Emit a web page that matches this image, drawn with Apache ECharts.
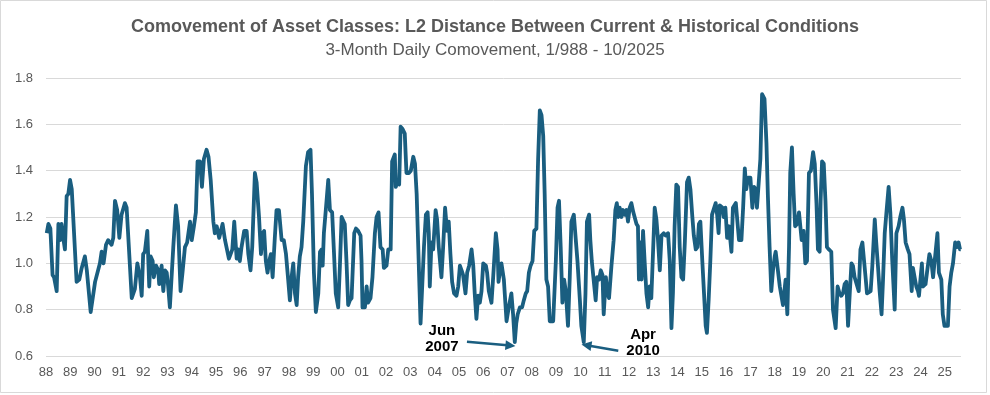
<!DOCTYPE html>
<html>
<head>
<meta charset="utf-8">
<script src="https://cdn.jsdelivr.net/npm/echarts@6/dist/echarts.min.js"></script>
<style>
html,body{margin:0;padding:0;background:#fff;}
#chart{width:990px;height:395px;}
</style>
</head>
<body>
<div id="chart"></div>
<script>
// Dates as decimal years
const dates = [
1988.03,1988.10,1988.18,1988.27,1988.33,1988.44,1988.51,1988.58,1988.64,1988.71,1988.78,1988.85,1988.92,1988.99,
1989.06,1989.26,1989.37,1989.47,1989.60,1989.68,1989.75,1989.84,
1990.02,1990.22,1990.29,1990.37,1990.47,1990.56,1990.70,1990.77,1990.84,1990.93,
1991.02,1991.11,1991.25,1991.32,1991.53,1991.66,1991.76,1991.87,1991.94,
1992.00,1992.07,1992.17,1992.25,1992.31,1992.39,1992.44,1992.53,1992.62,1992.66,1992.76,1992.83,1992.90,1992.97,
1993.03,1993.10,1993.24,1993.35,1993.44,1993.54,1993.62,1993.72,1993.81,1993.93,
1994.00,1994.09,1994.17,1994.24,1994.34,1994.42,1994.50,1994.61,1994.69,1994.78,1994.89,1994.95,
1995.03,1995.13,1995.19,1995.27,1995.37,1995.44,1995.53,1995.60,1995.67,1995.75,1995.85,1995.91,1995.98,
1996.05,1996.16,1996.26,1996.33,1996.42,1996.49,1996.60,1996.67,1996.77,1996.85,1996.92,1996.98,
1997.05,1997.12,1997.19,1997.26,1997.33,1997.42,1997.49,1997.59,1997.70,1997.79,1997.88,1997.97,
1998.04,1998.11,1998.18,1998.25,1998.32,1998.38,1998.45,1998.52,1998.59,1998.70,1998.79,1998.89,1998.95,
1999.03,1999.11,1999.21,1999.28,1999.35,1999.39,1999.44,1999.55,1999.62,1999.69,1999.78,1999.85,1999.93,
2000.03,2000.10,2000.17,2000.23,2000.30,2000.37,2000.44,2000.51,2000.58,2000.65,2000.69,2000.76,2000.85,2000.95,2000.99,
2001.03,2001.13,2001.20,2001.26,2001.36,2001.44,2001.54,2001.61,2001.69,2001.77,2001.86,2001.91,
2002.02,2002.09,2002.19,2002.25,2002.36,2002.40,2002.46,2002.54,2002.60,2002.68,2002.77,2002.84,2002.94,
2003.02,2003.12,2003.19,2003.26,2003.32,2003.42,2003.56,2003.64,2003.71,2003.76,2003.80,2003.87,2003.94,
2004.04,2004.10,2004.17,2004.28,2004.35,2004.43,2004.51,2004.58,2004.65,2004.72,2004.80,2004.90,2004.97,
2005.04,2005.11,2005.17,2005.27,2005.34,2005.42,2005.52,2005.59,2005.65,2005.72,2005.79,2005.86,2005.93,
2006.00,2006.11,2006.16,2006.23,2006.34,2006.41,2006.52,2006.59,2006.63,2006.68,2006.75,2006.85,2006.96,
2007.05,2007.16,2007.23,2007.30,2007.36,2007.42,2007.51,2007.60,2007.67,2007.75,2007.81,2007.88,2007.95,
2008.03,2008.10,2008.19,2008.26,2008.33,2008.40,2008.47,2008.53,2008.60,2008.67,2008.74,2008.81,2008.88,2008.99,
2009.06,2009.12,2009.19,2009.26,2009.33,2009.40,2009.49,2009.56,2009.63,2009.73,2009.80,2009.88,2009.98,
2010.04,2010.14,2010.21,2010.27,2010.36,2010.41,2010.47,2010.55,2010.63,2010.69,2010.77,2010.84,2010.91,2010.96,
2011.05,2011.11,2011.18,2011.28,2011.37,2011.44,2011.50,2011.56,2011.62,2011.69,2011.76,2011.83,2011.90,2011.96,
2012.03,2012.10,2012.18,2012.31,2012.37,2012.41,2012.47,2012.52,2012.58,2012.65,2012.72,2012.79,2012.85,2012.92,2012.99,
2013.06,2013.13,2013.19,2013.27,2013.34,2013.43,2013.51,2013.61,2013.68,2013.75,2013.81,2013.88,2013.95,
2014.02,2014.09,2014.16,2014.23,2014.30,2014.39,2014.46,2014.53,2014.61,2014.67,2014.75,2014.82,2014.88,2014.94,
2015.02,2015.09,2015.16,2015.21,2015.28,2015.35,2015.42,2015.49,2015.57,2015.63,2015.69,2015.74,2015.85,2015.90,2015.97,
2016.04,2016.12,2016.22,2016.28,2016.40,2016.47,2016.53,2016.63,2016.70,2016.77,2016.83,2016.90,
2017.00,2017.08,2017.15,2017.22,2017.27,2017.35,2017.41,2017.48,2017.58,2017.66,2017.72,2017.79,2017.86,2017.93,
2018.00,2018.04,2018.11,2018.21,2018.28,2018.34,2018.41,2018.45,2018.52,2018.59,2018.64,2018.71,2018.78,2018.84,2018.92,
2019.00,2019.06,2019.11,2019.19,2019.26,2019.33,2019.41,2019.49,2019.58,2019.65,2019.72,2019.78,2019.85,2019.89,2019.95,
2020.02,2020.09,2020.15,2020.23,2020.33,2020.40,2020.51,2020.59,2020.67,2020.74,2020.81,2020.88,2020.95,
2021.02,2021.09,2021.16,2021.22,2021.29,2021.36,2021.46,2021.53,2021.61,2021.68,2021.75,2021.80,2021.87,2021.95,
2022.02,2022.12,2022.18,2022.25,2022.32,2022.40,2022.46,2022.53,2022.60,2022.69,2022.76,2022.84,2022.94,
2023.01,2023.10,2023.17,2023.26,2023.32,2023.39,2023.48,2023.55,2023.64,2023.69,2023.76,2023.83,2023.90,2023.94,
2024.06,2024.10,2024.21,2024.27,2024.37,2024.45,2024.52,2024.58,2024.70,2024.76,2024.86,2024.92,2024.99,
2025.06,2025.13,2025.20,2025.27,2025.34,2025.43,2025.50,2025.57,2025.63,2025.66
];

const values = [
1.13,1.17,1.15,0.95,0.94,0.88,1.17,1.10,1.17,1.11,1.06,1.29,1.30,1.36,
1.32,0.92,0.93,0.98,1.03,0.97,0.97,0.79,
0.92,1.00,1.05,1.00,1.08,1.10,1.08,1.11,1.27,1.23,
1.11,1.21,1.26,1.24,0.85,0.89,1.00,0.94,0.86,
1.04,1.05,1.14,0.90,1.03,1.01,0.94,0.99,0.97,0.91,0.99,0.88,0.97,0.96,
0.90,0.81,1.07,1.25,1.16,0.88,0.96,1.07,1.09,1.18,
1.10,1.16,1.22,1.44,1.44,1.33,1.45,1.49,1.46,1.36,1.18,1.13,
1.16,1.11,1.11,1.17,1.10,1.10,1.02,1.04,1.06,1.18,1.02,1.06,1.01,
1.07,1.14,1.14,1.04,0.97,1.07,1.39,1.35,1.20,1.04,1.13,1.14,
1.01,0.96,1.01,1.04,0.94,1.11,1.23,1.23,1.10,1.10,1.04,0.93,
0.84,0.94,1.00,0.87,0.82,0.94,1.03,1.07,1.18,1.42,1.48,1.49,1.30,
0.96,0.79,0.87,1.05,1.06,0.99,1.13,1.27,1.36,1.23,1.22,1.06,0.87,
0.81,0.99,1.20,1.20,1.17,1.01,0.82,0.84,0.85,0.85,1.13,1.15,1.14,1.12,1.01,
0.81,0.81,0.90,0.83,0.85,0.94,1.13,1.20,1.22,1.07,1.06,0.98,
0.99,1.06,1.06,1.44,1.47,1.33,1.35,1.34,1.59,1.58,1.56,1.39,1.39,
1.40,1.46,1.43,1.30,1.09,0.74,1.07,1.21,1.22,1.13,0.90,1.09,1.06,
1.23,1.19,1.07,0.94,1.07,1.24,1.14,1.18,1.04,0.92,0.87,0.86,0.90,
0.99,0.97,0.95,0.87,0.96,0.99,1.06,0.99,0.87,0.76,0.86,0.83,0.88,
1.00,0.99,0.96,0.88,0.83,0.94,1.13,1.06,0.92,0.96,1.00,0.93,0.75,
0.81,0.87,0.78,0.66,0.74,0.78,0.81,0.81,0.84,0.87,0.88,0.96,0.99,
1.01,1.14,1.15,1.45,1.66,1.64,1.55,1.30,0.93,0.90,0.75,0.75,0.75,1.01,
1.24,1.27,1.07,0.83,0.93,0.88,0.73,0.93,1.18,1.21,1.21,1.01,0.84,
0.73,0.66,0.87,1.18,1.21,1.10,1.01,1.01,0.84,0.94,0.93,0.97,0.95,0.78,
0.94,0.87,0.85,0.99,1.10,1.23,1.26,1.20,1.24,1.20,1.23,1.21,1.23,1.18,
1.24,1.26,1.22,1.17,1.16,0.93,1.09,0.93,1.14,1.00,0.87,0.81,0.90,0.85,0.85,
1.24,1.19,1.11,0.97,1.12,1.13,1.12,1.13,1.01,0.72,0.87,1.16,1.34,
1.33,1.07,0.94,0.93,1.09,1.35,1.37,1.32,1.20,1.12,1.06,1.07,1.17,1.18,
1.01,0.87,0.73,0.70,0.84,1.01,1.21,1.21,1.26,1.21,1.13,1.25,1.24,1.20,1.24,
1.11,1.16,1.05,1.24,1.26,1.26,1.10,1.10,1.24,1.41,1.32,1.37,
1.37,1.24,1.33,1.32,1.24,1.36,1.45,1.73,1.71,1.52,1.29,1.07,0.88,0.97,
1.03,1.05,0.99,0.90,0.90,0.82,0.82,0.93,0.78,1.07,1.39,1.50,1.30,1.16,1.17,
1.22,1.22,1.10,1.14,1.00,1.01,1.39,1.40,1.48,1.43,1.26,1.06,1.05,1.27,1.44,
1.43,1.27,1.07,1.06,1.05,0.80,0.72,0.90,0.87,0.86,0.87,0.91,0.92,
0.73,0.87,1.00,0.99,0.94,0.94,0.88,1.06,1.09,1.01,0.93,0.87,0.87,0.88,
0.99,1.19,1.09,0.99,0.88,0.78,0.93,1.13,1.22,1.33,1.22,1.01,0.80,
1.13,1.16,1.20,1.24,1.19,1.09,1.06,1.04,0.88,0.98,0.98,0.90,0.88,0.86,
1.00,0.90,0.91,0.96,1.04,1.01,0.94,0.94,1.13,0.96,0.93,0.78,0.73,
0.73,0.73,0.90,0.96,1.00,1.09,1.07,1.09,1.06,1.06
];

const yTicks = [0.6, 0.8, 1.0, 1.2, 1.4, 1.6, 1.8];
const xStartYear = 1988;
const xEndYear = 2025.67;

// Annotations (data coordinates)
const annJunText = { label: 'Jun\n2007', at: [2004.30, 0.673] };
const annJunArrow = { from: [2005.33, 0.662], to: [2007.12, 0.645] };
const annAprText = { label: 'Apr\n2010', at: [2012.58, 0.656] };
const annAprArrow = { from: [2011.56, 0.623], to: [2010.25, 0.646] };

const lineColor = '#1A5E80';
const textGrey = '#595959';
const fontFam = '"Liberation Sans", Arial, sans-serif';

const seriesData = dates.map((d, i) => [d, values[i]]);

const chart = echarts.init(document.getElementById('chart'), null, { renderer: 'canvas' });
chart.setOption({
  animation: false,
  backgroundColor: '#ffffff',
  textStyle: { fontFamily: fontFam },
  title: {
    left: 'center',
    top: 13,
    text: 'Comovement of Asset Classes: L2 Distance Between Current & Historical Conditions',
    subtext: '3-Month Daily Comovement, 1/988 - 10/2025',
    itemGap: 5,
    textStyle: { fontFamily: fontFam, fontSize: 18, fontWeight: 'bold', color: textGrey, lineHeight: 18 },
    subtextStyle: { fontFamily: fontFam, fontSize: 17, color: textGrey, lineHeight: 18 }
  },
  graphic: [{
    type: 'rect',
    shape: { x: 0.5, y: 0.5, width: 986, height: 392 },
    style: { fill: 'none', stroke: '#d9d9d9', lineWidth: 1 },
    silent: true
  }],
  grid: { left: 46, right: 29, top: 78, bottom: 39, containLabel: false },
  xAxis: {
    type: 'value',
    min: xStartYear,
    max: xEndYear,
    interval: 1,
    axisLine: { show: false },
    axisTick: { show: false },
    splitLine: { show: false },
    axisLabel: {
      margin: 10,
      fontSize: 13,
      color: textGrey,
      fontFamily: fontFam,
      showMaxLabel: false,
      formatter: v => (Math.abs(v - Math.round(v)) < 1e-6) ? String(Math.round(v) % 100).padStart(2, '0') : ''
    }
  },
  yAxis: {
    type: 'value',
    min: yTicks[0],
    max: yTicks[yTicks.length - 1],
    interval: 0.2,
    axisLine: { show: false },
    axisTick: { show: false },
    splitLine: { show: true, lineStyle: { color: '#d9d9d9', width: 1 } },
    axisLabel: { margin: 13, fontSize: 13, color: textGrey, fontFamily: fontFam, formatter: v => v.toFixed(1) }
  },
  series: [{
    type: 'line',
    data: seriesData,
    showSymbol: false,
    symbol: 'none',
    lineStyle: { color: lineColor, width: 3.8, join: 'round' },
    itemStyle: { color: lineColor },
    silent: true,
    markLine: {
      silent: true,
      symbol: ['none', 'triangle'],
      symbolSize: 10,
      label: { show: false },
      lineStyle: { color: lineColor, width: 2.5, type: 'solid', opacity: 1 },
      itemStyle: { color: lineColor },
      emphasis: { disabled: true },
      data: [
        [{ coord: annJunArrow.from }, { coord: annJunArrow.to }],
        [{ coord: annAprArrow.from }, { coord: annAprArrow.to }]
      ]
    },
    markPoint: {
      silent: true,
      symbol: 'circle',
      symbolSize: 1,
      itemStyle: { color: 'rgba(0,0,0,0)' },
      label: {
        show: true,
        position: 'inside',
        color: '#000000',
        fontFamily: fontFam,
        fontSize: 15,
        fontWeight: 'bold',
        lineHeight: 16,
        align: 'center',
        verticalAlign: 'middle'
      },
      data: [
        { coord: annJunText.at, value: annJunText.label, label: { formatter: annJunText.label } },
        { coord: annAprText.at, value: annAprText.label, label: { formatter: annAprText.label } }
      ]
    }
  }]
});
</script>
</body>
</html>
